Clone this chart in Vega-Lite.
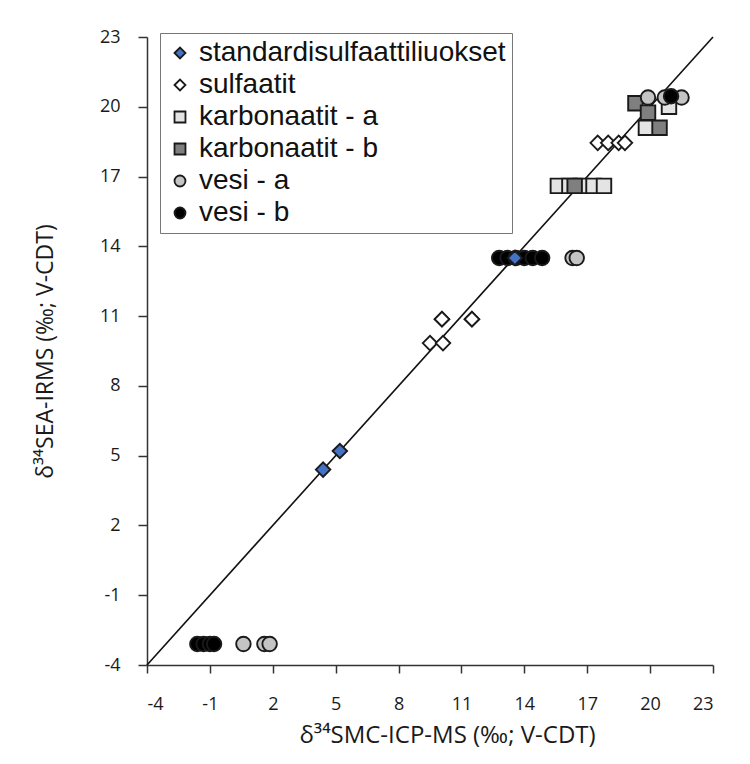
{
  "$schema": "https://vega.github.io/schema/vega-lite/v6.json",
  "width": 566,
  "height": 628,
  "autosize": {"type": "none"},
  "padding": {"left": 147, "top": 37, "right": 37, "bottom": 99},
  "background": "white",
  "config": {
    "view": {"stroke": null},
    "font": "Liberation Sans"
  },
  "layer": [
    {
      "data": {"values": [{"x": -4, "y": -4}, {"x": 23, "y": 23}]},
      "mark": {"type": "line", "color": "#111111", "strokeWidth": 1.6},
      "encoding": {
        "x": {"field": "x", "type": "quantitative"},
        "y": {"field": "y", "type": "quantitative"}
      }
    },
    {
      "data": {"values": [
        {"series": "karbonaatit - a", "x": 15.6, "y": 16.6},
        {"series": "karbonaatit - a", "x": 16.15, "y": 16.6},
        {"series": "karbonaatit - a", "x": 16.7, "y": 16.6},
        {"series": "karbonaatit - a", "x": 17.3, "y": 16.6},
        {"series": "karbonaatit - a", "x": 17.8, "y": 16.6},
        {"series": "karbonaatit - a", "x": 19.8, "y": 19.1},
        {"series": "karbonaatit - a", "x": 20.9, "y": 20.0},
        {"series": "karbonaatit - b", "x": 16.4, "y": 16.6},
        {"series": "karbonaatit - b", "x": 19.3, "y": 20.15},
        {"series": "karbonaatit - b", "x": 19.9, "y": 19.75},
        {"series": "karbonaatit - b", "x": 20.45, "y": 19.1},
        {"series": "vesi - a", "x": 0.6, "y": -3.1},
        {"series": "vesi - a", "x": 1.6, "y": -3.1},
        {"series": "vesi - a", "x": 1.85, "y": -3.1},
        {"series": "vesi - a", "x": 16.3, "y": 13.5},
        {"series": "vesi - a", "x": 16.5, "y": 13.5},
        {"series": "vesi - a", "x": 19.9, "y": 20.4},
        {"series": "vesi - a", "x": 20.7, "y": 20.4},
        {"series": "vesi - a", "x": 21.5, "y": 20.4},
        {"series": "vesi - b", "x": -1.6, "y": -3.1},
        {"series": "vesi - b", "x": -1.3, "y": -3.1},
        {"series": "vesi - b", "x": -1.0, "y": -3.1},
        {"series": "vesi - b", "x": -0.8, "y": -3.1},
        {"series": "vesi - b", "x": 12.8, "y": 13.5},
        {"series": "vesi - b", "x": 13.2, "y": 13.5},
        {"series": "vesi - b", "x": 13.6, "y": 13.5},
        {"series": "vesi - b", "x": 14.0, "y": 13.5},
        {"series": "vesi - b", "x": 14.4, "y": 13.5},
        {"series": "vesi - b", "x": 14.85, "y": 13.5},
        {"series": "vesi - b", "x": 21.0, "y": 20.45},
        {"series": "sulfaatit", "x": 9.5, "y": 9.84},
        {"series": "sulfaatit", "x": 10.12, "y": 9.84},
        {"series": "sulfaatit", "x": 10.07, "y": 10.87},
        {"series": "sulfaatit", "x": 10.07, "y": 10.87},
        {"series": "sulfaatit", "x": 11.5, "y": 10.87},
        {"series": "sulfaatit", "x": 11.5, "y": 10.87},
        {"series": "sulfaatit", "x": 17.5, "y": 18.45},
        {"series": "sulfaatit", "x": 18.0, "y": 18.45},
        {"series": "sulfaatit", "x": 18.5, "y": 18.45},
        {"series": "sulfaatit", "x": 18.8, "y": 18.45},
        {"series": "standardisulfaattiliuokset", "x": 4.4, "y": 4.4},
        {"series": "standardisulfaattiliuokset", "x": 5.2, "y": 5.2},
        {"series": "standardisulfaattiliuokset", "x": 13.55, "y": 13.5}
      ]},
      "mark": {"type": "point", "filled": true, "size": 210, "stroke": "#1a1a1a", "strokeWidth": 1.9, "opacity": 1},
      "encoding": {
        "x": {
          "field": "x", "type": "quantitative",
          "scale": {"domain": [-4, 23], "nice": false, "zero": false},
          "axis": {
            "values": [-4, -1, 2, 5, 8, 11, 14, 17, 20, 23],
            "labelExpr": "replace(datum.label, '−', '-')",
            "grid": false,
            "domainColor": "#333333", "domainWidth": 1.5,
            "tickColor": "#333333", "tickWidth": 1.5, "tickSize": 8,
            "labelFont": "Open Sans", "labelFontSize": 18, "labelColor": "#1a1a1a", "labelPadding": 22,
            "title": "δ³⁴SMC-ICP-MS (‰; V-CDT)",
            "titleFont": "Open Sans", "titleFontSize": 24, "titleFontWeight": "normal", "titleColor": "#1a1a1a",
            "titlePadding": 10,
            "titleX": 300
          }
        },
        "y": {
          "field": "y", "type": "quantitative",
          "scale": {"domain": [-4, 23], "nice": false, "zero": false},
          "axis": {
            "values": [-4, -1, 2, 5, 8, 11, 14, 17, 20, 23],
            "labelExpr": "replace(datum.label, '−', '-')",
            "grid": false,
            "domainColor": "#333333", "domainWidth": 1.5,
            "tickColor": "#333333", "tickWidth": 1.5, "tickSize": 9,
            "labelFont": "Open Sans", "labelFontSize": 18, "labelColor": "#1a1a1a", "labelPadding": 18,
            "title": "δ³⁴SEA-IRMS (‰; V-CDT)",
            "titleFont": "Open Sans", "titleFontSize": 23, "titleFontWeight": "normal", "titleColor": "#1a1a1a",
            "titlePadding": 42
          }
        },
        "shape": {
          "field": "series", "type": "nominal",
          "scale": {
            "domain": ["standardisulfaattiliuokset", "sulfaatit", "karbonaatit - a", "karbonaatit - b", "vesi - a", "vesi - b"],
            "range": ["diamond", "diamond", "square", "square", "circle", "circle"]
          }
        },
        "fill": {
          "field": "series", "type": "nominal",
          "scale": {
            "domain": ["standardisulfaattiliuokset", "sulfaatit", "karbonaatit - a", "karbonaatit - b", "vesi - a", "vesi - b"],
            "range": ["#4472C4", "#ffffff", "#e4e4e4", "#7f7f7f", "#c4c4c4", "#000000"]
          },
          "legend": {
            "title": null,
            "orient": "none",
            "legendX": 13,
            "legendY": -4,
            "labelFont": "Liberation Sans",
            "labelFontSize": 28,
            "labelColor": "#111111",
            "labelLimit": 400,
            "symbolSize": 120,
            "symbolStrokeWidth": 1.8,
            "symbolStrokeColor": "#1a1a1a",
            "rowPadding": 4,
            "labelOffset": 5,
            "padding": 6,
            "strokeColor": "#777777",
            "fillColor": "#ffffff"
          }
        }
      }
    }
  ]
}
